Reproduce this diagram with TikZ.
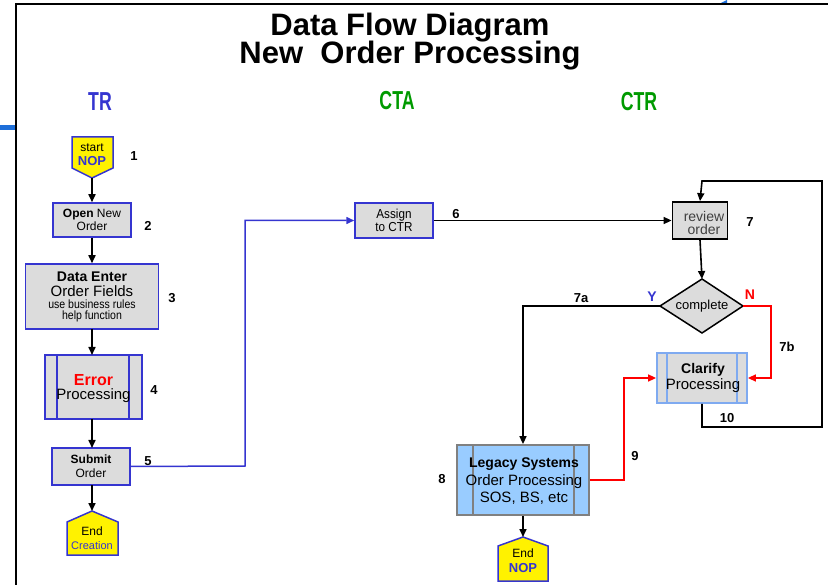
\documentclass[tikz,border=0pt]{standalone}
\usepackage{fontspec}
\setmainfont{Liberation Sans}
\usetikzlibrary{arrows.meta}
\definecolor{edgeblue}{HTML}{3535D0}
\definecolor{boxgray}{HTML}{DCDCDC}
\definecolor{lightblue}{HTML}{99CCFF}
\definecolor{paleblue}{HTML}{7FAAF0}
\definecolor{lanegreen}{HTML}{009A00}
\definecolor{markblue}{HTML}{1E6FD9}
\newcommand{\fs}[1]{\fontsize{#1}{#1}\selectfont}
\tikzset{
  flow/.style={-{Triangle[length=8pt,width=7pt]}, line width=1.6pt},
  procbox/.style={draw=edgeblue, fill=boxgray, line width=1.5pt},
  termshape/.style={draw=edgeblue, fill=yellow, line width=1.5pt},
  numlbl/.style={font=\fs{13}\bfseries, inner sep=0pt},
  txt/.style={inner sep=0pt, align=center},
}
\begin{document}
\begin{tikzpicture}[x=1pt,y=-1pt]
\useasboundingbox (0,0) rectangle (828,585);
% page frame
\draw[line width=2pt] (16,585) -- (16,4) -- (828,4);
\fill[markblue] (0,125) rectangle (15,130);
\fill[markblue] (721,3) -- (727,0) -- (727,3) -- cycle;

% title and lanes
\node[txt, font=\fs{31}\bfseries] (title) at (410,42) {Data Flow Diagram\\[-3pt]New\ \ Order Processing};
\node[txt, font=\fs{26}\bfseries, text=edgeblue] (laneTR) at (100,102) {\scalebox{0.68}[1]{TR}};
\node[txt, font=\fs{26}\bfseries, text=lanegreen] (laneCTA) at (397,101) {\scalebox{0.68}[1]{CTA}};
\node[txt, font=\fs{26}\bfseries, text=lanegreen] (laneCTR) at (639,102) {\scalebox{0.68}[1]{CTR}};

% ---- TR lane ----
% start NOP (pentagon pointing down)
\draw[termshape] (72,137) -- (113,137) -- (113,168) -- (92,178) -- (72,168) -- cycle;
\node[txt] (start) at (92,155) {\fs{12}start\\[2pt]\fs{13}\bfseries\color{edgeblue}NOP};
\coordinate (startTip) at (92,178);
\node[numlbl] (n1) at (134,156) {1};

\node[procbox, minimum width=78pt, minimum height=34pt, txt] (open) at (92,220)
  {\fs{12}\textbf{Open} New\\[1pt]\fs{12}Order};
\node[numlbl] (n2) at (148,226) {2};

\node[procbox, minimum width=133pt, minimum height=65pt, txt] (enter) at (92,296.5)
  {\fs{14}\bfseries Data Enter\\[3pt]\fs{15}Order Fields\\[0pt]\fs{12}\scalebox{0.88}[1]{use business rules}\\[-1pt]\fs{12}\scalebox{0.88}[1]{help function}};
\node[numlbl] (n3) at (172,298) {3};

\node[procbox, minimum width=97pt, minimum height=64pt] (error) at (93.5,387) {};
\draw[edgeblue, line width=1.2pt] (57,355) -- (57,419) (129,355) -- (129,419);
\node[txt] (errtxt) at (93.5,389) {\fs{16}\bfseries\color{red}Error\\[2pt]\fs{15}Processing};
\node[numlbl] (n4) at (154,390) {4};

\node[procbox, minimum width=78pt, minimum height=37pt, txt] (submit) at (91,466.5)
  {\fs{12}\bfseries Submit\\[2pt]\fs{12}Order};
\node[numlbl] (n5) at (148,461) {5};

% End Creation (house shape)
\draw[termshape] (67,522) -- (92,511) -- (118,522) -- (118,555) -- (67,555) -- cycle;
\node[txt] (endc) at (92,538) {\fs{12}End\\[2pt]\fs{11}\color{edgeblue}Creation};
\coordinate (endcTop) at (92,511);

\draw[flow] (startTip) -- (open.north);
\draw[flow] (open.south) -- (enter.north);
\draw[flow] (92,329) -- (92,355);
\draw[flow] (92,419) -- (92,448);
\draw[flow] (92,485) -- (endcTop);

% ---- CTA lane ----
\node[procbox, minimum width=78pt, minimum height=35pt, txt] (assign) at (394,220.5)
  {\fs{13}\scalebox{0.9}[1]{Assign}\\[1pt]\fs{13}\scalebox{0.9}[1]{to CTR}};
\node[numlbl] (n6) at (456,214) {6};
\draw[flow, edgeblue, line width=1.5pt] (submit.east) -- (245,466) |- (assign.west);

% ---- CTR lane ----
\node[draw=black, fill=boxgray, line width=1.8pt, minimum width=55pt, minimum height=37pt] (review) at (700,220.5) {};
\node[txt, text=black!75] (revtxt) at (704,223) {\fs{14}review\\[1pt]\fs{14}order};
\node[numlbl] (n7) at (750,222) {7};
\draw[flow] (assign.east) -- (review.west);

% decision diamond
\draw[fill=boxgray, line width=1.5pt] (660,306) -- (702,279) -- (743,306) -- (702,333) -- cycle;
\node[txt] (complete) at (702,306) {\fs{13}complete};
\coordinate (diaTop) at (702,279);
\coordinate (diaLeft) at (660,306);
\coordinate (diaRight) at (743,306);
\node[txt, font=\fs{14}\bfseries, text=edgeblue] (ylbl) at (652,297) {Y};
\node[txt, font=\fs{14}\bfseries, text=red] (nlbl) at (750,295) {N};
\draw[flow] (review.south) -- (diaTop);

% Clarify processing
\node[draw=paleblue, fill=boxgray, line width=1.8pt, minimum width=90pt, minimum height=50pt] (clarify) at (702,378) {};
\draw[paleblue, line width=1.2pt] (667,353) -- (667,403) (737,353) -- (737,403);
\node[txt] (clartxt) at (703,378) {\fs{14}\bfseries Clarify\\[2pt]\fs{15}Processing};

% Legacy systems
\node[draw=gray, fill=lightblue, line width=1.8pt, minimum width=132pt, minimum height=70pt] (legacy) at (523,480) {};
\draw[gray, line width=1.2pt] (473,445) -- (473,515) (574,445) -- (574,515);
\node[txt] (legtxt) at (524,481) {\fs{14}\bfseries Legacy Systems\\[3pt]\fs{15}Order Processing\\[2pt]\fs{15}SOS, BS, etc};
\node[numlbl] (n8) at (442,479) {8};

% End NOP (house shape)
\draw[termshape] (498,546) -- (523,537) -- (548,546) -- (548,581) -- (498,581) -- cycle;
\node[txt] (endn) at (523,561) {\fs{12}End\\[3pt]\fs{13}\bfseries\color{edgeblue}NOP};
\coordinate (endnTop) at (523,537);

% CTR connectors
\draw[flow] (diaLeft) -- (523,306) -- (legacy.north);
\node[numlbl] (n7a) at (581,298) {7a};
\draw[flow, red, line width=1.5pt] (diaRight) -- (771,306) |- (clarify.east);
\node[numlbl] (n7b) at (787,347) {7b};
\draw[flow, red, line width=1.5pt] (legacy.east) -- (624,480) |- (clarify.west);
\node[numlbl] (n9) at (635,456) {9};
\draw[flow] (legacy.south) -- (endnTop);
\draw[flow] (clarify.south) -- (702,427) -- (822,427) -- (822,181) -- (702,181) -- (review.north);
\node[numlbl] (n10) at (727,418) {10};
\end{tikzpicture}
\end{document}
